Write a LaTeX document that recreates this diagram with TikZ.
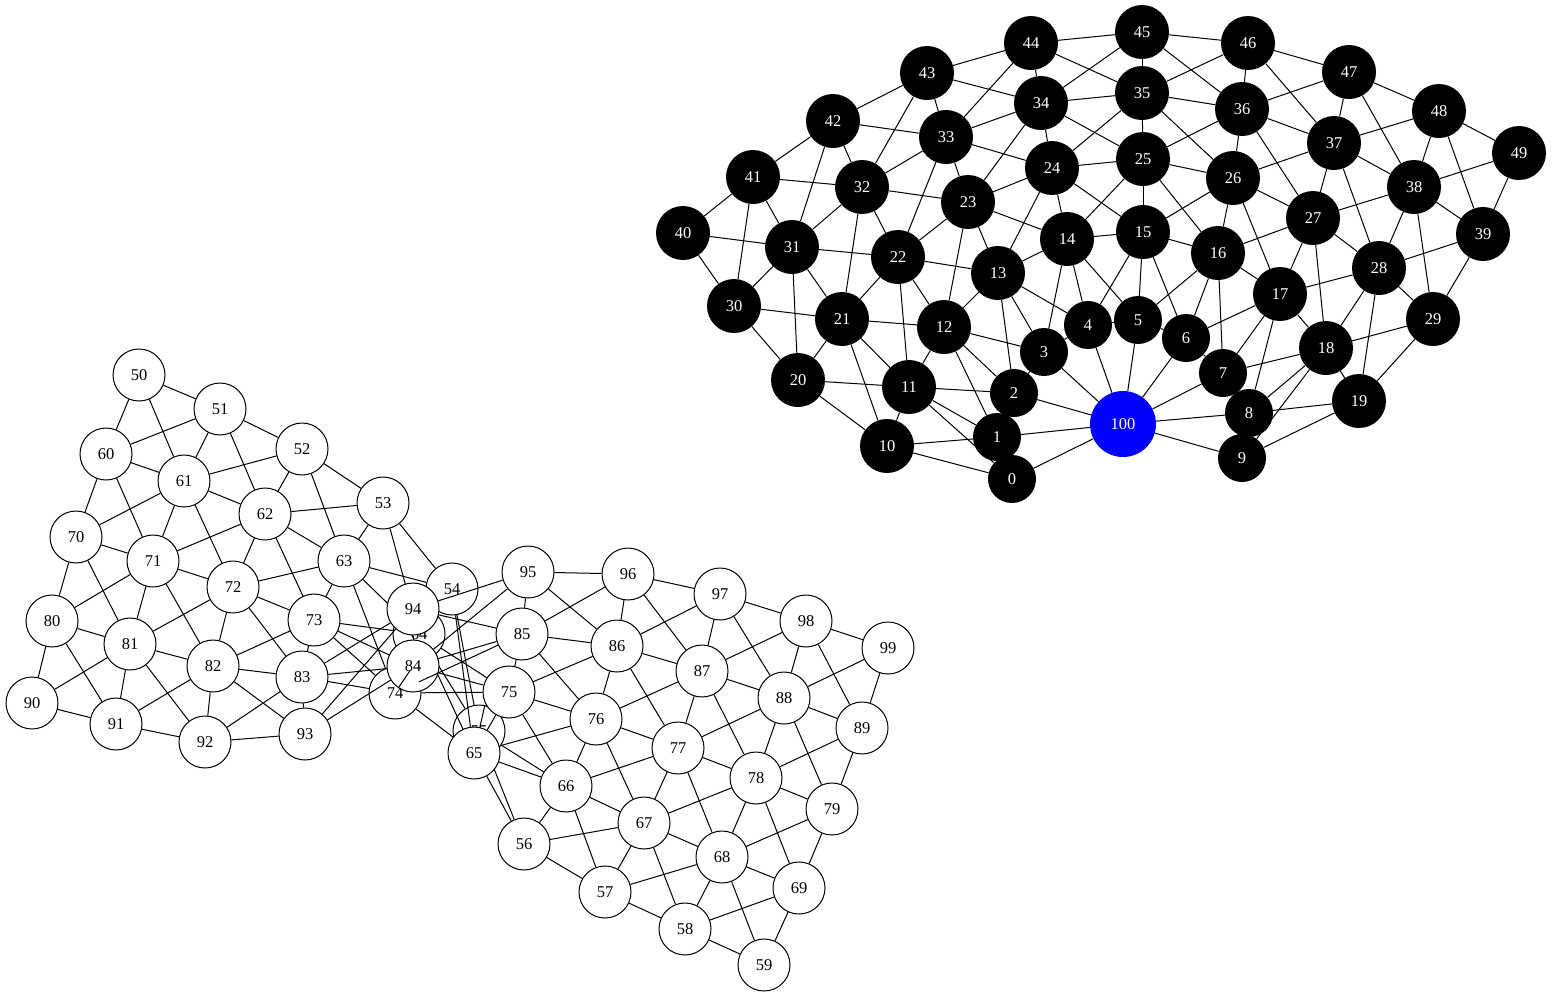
\documentclass[tikz,border=0pt]{standalone}
\usepackage{fontspec}
\setmainfont{Liberation Serif}
\usepackage{tikz}

\begin{document}
\begin{tikzpicture}[x=1pt, y=-1pt,
  blk/.style={circle, fill=black, text=white, inner sep=0pt, minimum size=54pt, font=\fontsize{16.5}{18}\selectfont},
  bsm/.style={blk, minimum size=48pt},
  wht/.style={circle, draw=black, line width=1pt, fill=white, text=black, inner sep=0pt, minimum size=52pt, font=\fontsize{16.5}{18}\selectfont},
  hub/.style={blk, fill=blue, minimum size=66pt},
  edge/.style={draw=black, line width=1pt}
]
  \useasboundingbox (0,0) rectangle (1552,997);
  % Nodes in order; each one is followed by its edges to lower-numbered neighbours
  \foreach \n/\x/\y/\s in {
    0/1012/479/bsm, 1/997/437/bsm, 2/1014/393/bsm, 3/1044/352/bsm, 4/1088/325/bsm,
    5/1138/320/bsm, 6/1186/338/bsm, 7/1223/373/bsm, 8/1249/413/bsm, 9/1242/458/bsm,
    10/887/446/blk, 11/909/387/blk, 12/944/327/blk, 13/998/273/blk, 14/1067/239/blk,
    15/1143/232/blk, 16/1218/253/blk, 17/1280/294/blk, 18/1326/348/blk, 19/1359/401/blk,
    20/798/380/blk, 21/842/319/blk, 22/898/257/blk, 23/968/202/blk, 24/1052/168/blk,
    25/1143/159/blk, 26/1233/178/blk, 27/1313/218/blk, 28/1379/268/blk, 29/1433/319/blk,
    30/734/306/blk, 31/792/247/blk, 32/862/187/blk, 33/946/137/blk, 34/1041/103/blk,
    35/1142/93/blk, 36/1242/109/blk, 37/1334/143/blk, 38/1414/187/blk, 39/1483/234/blk,
    40/683/233/blk, 41/753/177/blk, 42/833/121/blk, 43/927/73/blk, 44/1031/43/blk,
    45/1142/32/blk, 46/1248/43/blk, 47/1349/72/blk, 48/1439/111/blk, 49/1519/153/blk,
    50/139/375/wht, 51/220/409/wht, 52/302/449/wht, 53/383/503/wht, 54/452/589/wht,
    55/479/731/wht, 56/524/844/wht, 57/605/892/wht, 58/685/929/wht, 59/764/965/wht,
    60/106/454/wht, 61/184/481/wht, 62/265/514/wht, 63/344/561/wht, 64/419/634/wht,
    65/474/753/wht, 66/566/786/wht, 67/644/823/wht, 68/722/857/wht, 69/799/888/wht,
    70/76/537/wht, 71/153/561/wht, 72/233/587/wht, 73/314/620/wht, 74/395/693/wht,
    75/509/692/wht, 76/596/719/wht, 77/678/748/wht, 78/756/778/wht, 79/832/809/wht,
    80/52/621/wht, 81/130/644/wht, 82/213/666/wht, 83/302/677/wht, 84/413/666/wht,
    85/522/634/wht, 86/617/646/wht, 87/702/671/wht, 88/784/698/wht, 89/862/728/wht,
    90/32/703/wht, 91/116/724/wht, 92/205/742/wht, 93/305/734/wht, 94/413/609/wht,
    95/528/572/wht, 96/628/574/wht, 97/720/594/wht, 98/806/621/wht, 99/888/648/wht,
    100/1123/424/hub}{
    \node[\s] (n\n) at (\x,\y) {\n};
    \pgfmathtruncatemacro{\r}{\n/10}
    \pgfmathtruncatemacro{\c}{mod(\n,10)}
    \pgfmathtruncatemacro{\w}{\n-1}
    \pgfmathtruncatemacro{\up}{\n-10}
    \pgfmathtruncatemacro{\ul}{\n-11}
    \pgfmathtruncatemacro{\ur}{\n-9}
    \ifnum\n=100
      \foreach \m in {0,...,9} \draw[edge] (n\m) -- (n100);
    \else
      \ifnum\c>0 \draw[edge] (n\w) -- (n\n); \fi
      \ifnum\r=0 \else \ifnum\r=5 \else
        \draw[edge] (n\up) -- (n\n);
        \ifnum\c>0 \draw[edge] (n\ul) -- (n\n); \fi
        \ifnum\c<9 \draw[edge] (n\ur) -- (n\n); \fi
      \fi\fi
    \fi
  }
\end{tikzpicture}
\end{document}
